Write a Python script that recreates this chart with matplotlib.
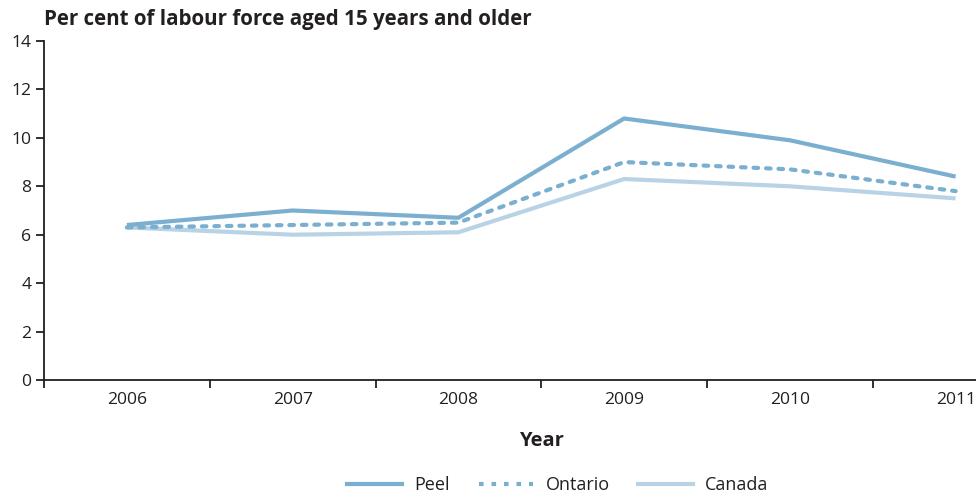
import matplotlib
matplotlib.use("Agg")
import matplotlib.pyplot as plt
from matplotlib.lines import Line2D

plt.rcParams['font.family'] = ['Open Sans', 'DejaVu Sans']

years = ["2006", "2007", "2008", "2009", "2010", "2011"]
peel = [6.4, 7.0, 6.7, 10.8, 9.9, 8.4]
ontario = [6.3, 6.4, 6.5, 9.0, 8.7, 7.8]
canada = [6.3, 6.0, 6.1, 8.3, 8.0, 7.5]
y_ticks = [0, 2, 4, 6, 8, 10, 12, 14]

text_color = "#231f20"
peel_color = "#7bafd0"
canada_color = "#b9d3e6"

W, H = 976, 496
fig = plt.figure(figsize=(W / 100, H / 100), dpi=100)

left_px, band_px = 44, 165.75
bottom_px, top_px = 380, 41
ax = fig.add_axes([left_px / W, 1 - bottom_px / H,
                   (W - left_px) / W, (bottom_px - top_px) / H])

x = list(range(len(years)))
lw = 3.0
ax.plot(x, canada, color=canada_color, lw=lw, solid_capstyle="butt", zorder=2)
ax.plot(x, peel, color=peel_color, lw=lw, solid_capstyle="butt", zorder=3)
ax.plot(x, ontario, color=peel_color, lw=lw, dashes=(1.1, 1.9),
        dash_capstyle="round", zorder=4)

ax.set_ylim(0, 14)
ax.set_yticks(y_ticks)
ax.set_xlim(-0.5, (W - left_px) / band_px - 0.5)

# category labels centred in bands, ticks on band boundaries
ax.set_xticks([i - 0.5 for i in range(len(years))])
ax.set_xticklabels([])
ax.set_xticks(x, minor=True)
ax.set_xticklabels(years, minor=True)
ax.tick_params(axis="x", which="minor", length=0, pad=9,
               labelsize=12.6, labelcolor=text_color)
ax.tick_params(axis="x", which="major", length=6, width=1.3,
               color=text_color, direction="out")
ax.tick_params(axis="y", length=6, width=1.3, color=text_color,
               labelsize=12.6, labelcolor=text_color, pad=3)

for s in ("top", "right"):
    ax.spines[s].set_visible(False)
for s in ("left", "bottom"):
    ax.spines[s].set_color(text_color)
    ax.spines[s].set_linewidth(1.3)

fig.text(44 / W, 1 - 19 / H, "Per cent of labour force aged 15 years and older",
         fontsize=14.8, fontweight="bold", color=text_color,
         ha="left", va="center")
fig.text(541 / W, 1 - 441 / H, "Year", fontsize=14.5, fontweight="bold",
         color=text_color, ha="center", va="center")

handles = [
    Line2D([], [], color=peel_color, lw=lw),
    Line2D([], [], color=peel_color, lw=lw, dashes=(1.1, 1.9),
           dash_capstyle="butt"),
    Line2D([], [], color=canada_color, lw=lw),
]
leg = fig.legend(handles, ["Peel", "Ontario", "Canada"], ncol=3,
                 loc="center", bbox_to_anchor=(558 / W, 1 - 485 / H),
                 frameon=False, fontsize=13, handlelength=3.0,
                 handletextpad=0.7, columnspacing=1.6)
for t in leg.get_texts():
    t.set_color(text_color)

fig.savefig("out.png", dpi=100)
